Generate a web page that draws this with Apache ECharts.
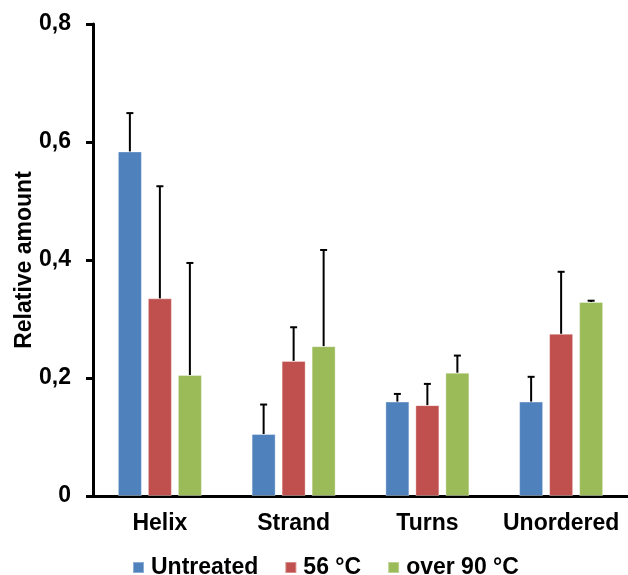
<!DOCTYPE html>
<html>
<head>
<meta charset="utf-8">
<script src="https://cdn.jsdelivr.net/npm/echarts@6/dist/echarts.min.js"></script>
<style>
  html, body { margin: 0; padding: 0; background: #fff; }
  #chart { width: 628px; height: 575px; }
</style>
</head>
<body>
<div id="chart"></div>
<script>
// Secondary structure content per treatment
const categories = ['Helix', 'Strand', 'Turns', 'Unordered'];
const seriesNames = ['Untreated', '56 °C', 'over 90 °C'];
const untreated = [0.584, 0.105, 0.160, 0.160];
const heated56 = [0.335, 0.229, 0.154, 0.275];
const over90 = [0.205, 0.254, 0.209, 0.329];
// Upper end of each error bar (mean + SD)
const untreatedErr = [0.649, 0.155, 0.173, 0.202];
const heated56Err = [0.525, 0.286, 0.190, 0.380];
const over90Err = [0.395, 0.417, 0.238, 0.331];
const yTicks = [0, 0.2, 0.4, 0.6, 0.8];

const colors = ['#4F81BD', '#C0504D', '#9BBB59'];
const FONT = '"Liberation Sans", Arial, sans-serif';
const FONT_SIZE = 23;
const BAR_W = 24;
const BAR_STEP = 30; // bar width + gap between neighbouring bars

const values = [untreated, heated56, over90];
const errs = [untreatedErr, heated56Err, over90Err];

function errorSeries(idx) {
  const offset = (idx - 1) * BAR_STEP;
  return {
    type: 'custom',
    name: seriesNames[idx] + ' SD',
    silent: true,
    z: 5,
    data: categories.map((c, i) => [i, values[idx][i], errs[idx][i]]),
    renderItem: function (params, api) {
      const base = api.coord([api.value(0), api.value(1)]);
      const top = api.coord([api.value(0), api.value(2)]);
      const x = base[0] + offset;
      const cap = 3.5;
      const style = { stroke: '#000', lineWidth: 2 };
      return {
        type: 'group',
        children: [
          { type: 'line', shape: { x1: x, y1: base[1], x2: x, y2: top[1] }, style: style },
          { type: 'line', shape: { x1: x - cap, y1: top[1], x2: x + cap, y2: top[1] }, style: style }
        ]
      };
    }
  };
}

const barSeries = values.map((v, idx) => ({
  type: 'bar',
  name: seriesNames[idx],
  data: v,
  barWidth: BAR_W,
  barGap: ((BAR_STEP - BAR_W) / BAR_W * 100) + '%',
  itemStyle: { color: colors[idx], borderColor: 'rgba(255,255,255,0.35)', borderWidth: 1 }
}));

const chart = echarts.init(document.getElementById('chart'), null, { renderer: 'canvas' });
chart.setOption({
  animation: false,
  backgroundColor: '#ffffff',
  grid: { left: 93, right: 0, top: 24, bottom: 79, containLabel: false, outerBoundsMode: 'none' },
  legend: {
    data: seriesNames,
    left: 132,
    top: 556,
    padding: 0,
    itemWidth: 11,
    itemHeight: 11,
    itemGap: 26,
    icon: 'rect',
    textStyle: { fontFamily: FONT, fontWeight: 'bold', fontSize: FONT_SIZE, color: '#000', padding: [0, 0, 0, 2] }
  },
  xAxis: {
    type: 'category',
    data: categories,
    axisLine: { lineStyle: { color: '#000', width: 3 } },
    axisTick: { alignWithLabel: true, length: 6, lineStyle: { color: '#000', width: 3 } },
    axisLabel: { interval: 0, fontFamily: FONT, fontWeight: 'bold', fontSize: FONT_SIZE, color: '#000', margin: 16 },
    splitLine: { show: false }
  },
  yAxis: {
    type: 'value',
    min: yTicks[0],
    max: yTicks[yTicks.length - 1],
    interval: yTicks[1] - yTicks[0],
    name: 'Relative amount',
    nameLocation: 'middle',
    nameRotate: 90,
    nameGap: 57,
    nameMoveOverlap: false,
    nameTextStyle: { fontFamily: FONT, fontWeight: 'bold', fontSize: FONT_SIZE, color: '#000' },
    axisLine: { show: true, lineStyle: { color: '#000', width: 3 } },
    axisTick: { show: true, length: 7, lineStyle: { color: '#000', width: 3 } },
    axisLabel: {
      fontFamily: FONT, fontWeight: 'bold', fontSize: FONT_SIZE, color: '#000', margin: 22,
      formatter: v => (Math.round(v * 10) / 10).toString().replace('.', ',')
    },
    splitLine: { show: false }
  },
  series: barSeries.concat([errorSeries(0), errorSeries(1), errorSeries(2)])
});
</script>
</body>
</html>
